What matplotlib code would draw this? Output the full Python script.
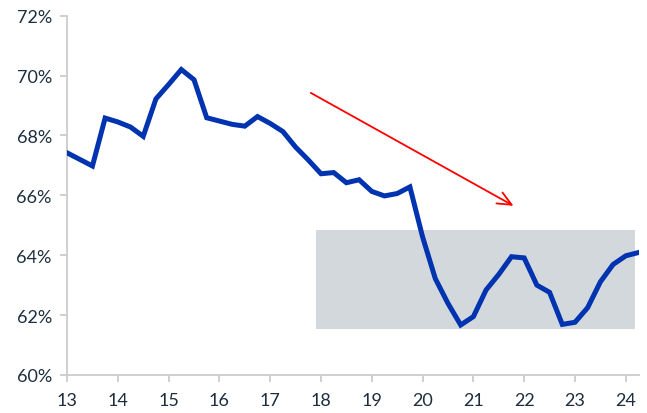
import numpy as np
import matplotlib.pyplot as plt
from matplotlib.patches import Rectangle

plt.rcParams['font.family'] = ['Lato', 'DejaVu Sans']

# quarterly share, 2013 Q1 .. 2024 Q2
years = np.arange(13.0, 24.26, 0.25)
share = [67.42, 67.20, 66.98, 68.58, 68.45, 68.28, 67.97, 69.22,
         69.70, 70.20, 69.86, 68.59, 68.48, 68.37, 68.31, 68.63,
         68.40, 68.13, 67.61, 67.18, 66.72, 66.76, 66.42, 66.52,
         66.13, 65.98, 66.06, 66.28, 64.61, 63.22, 62.39, 61.67,
         61.95, 62.84, 63.36, 63.95, 63.91, 63.00, 62.76, 61.69,
         61.76, 62.25, 63.11, 63.69, 63.98, 64.09]

band_x = [17.9, 24.18]
band_y = [61.53, 64.83]
arrow_start = (17.8, 69.42)
arrow_end = (21.79, 65.65)

xticks = list(range(13, 25))
yticks = [60, 62, 64, 66, 68, 70, 72]

text_col = "#1c2e3e"
grid_col = "#cccccc"

fig = plt.figure(figsize=(6.47, 4.14), dpi=100)
ax = fig.add_axes([0.1036, 0.0918, 0.884, 0.868])

ax.add_patch(Rectangle((band_x[0], band_y[0]), band_x[1] - band_x[0],
                       band_y[1] - band_y[0], facecolor="#d3d8dc",
                       edgecolor="none", zorder=1))
ax.plot(years, share, color="#0033b0", linewidth=3.6, zorder=3,
        solid_joinstyle="miter")
ax.annotate("", xy=arrow_end, xytext=arrow_start,
            arrowprops=dict(arrowstyle="->, head_length=1.0, head_width=0.45",
                            color="#ff0000", linewidth=1.3,
                            shrinkA=0, shrinkB=0), zorder=4)

ax.set_xlim(13, 24.26)
ax.set_ylim(60, 72)
ax.set_xticks(xticks)
ax.set_xticklabels([str(t) for t in xticks])
ax.set_yticks(yticks)
ax.set_yticklabels([f"{t}%" for t in yticks])

for s in ["top", "right"]:
    ax.spines[s].set_visible(False)
for s in ["left", "bottom"]:
    ax.spines[s].set_color(grid_col)
    ax.spines[s].set_linewidth(1.3)
ax.tick_params(axis="both", colors=grid_col, length=5, width=1.3,
               labelcolor=text_col, labelsize=13)
ax.tick_params(axis="x", pad=7)
ax.tick_params(axis="y", pad=6)

fig.savefig("out.png", dpi=100)
